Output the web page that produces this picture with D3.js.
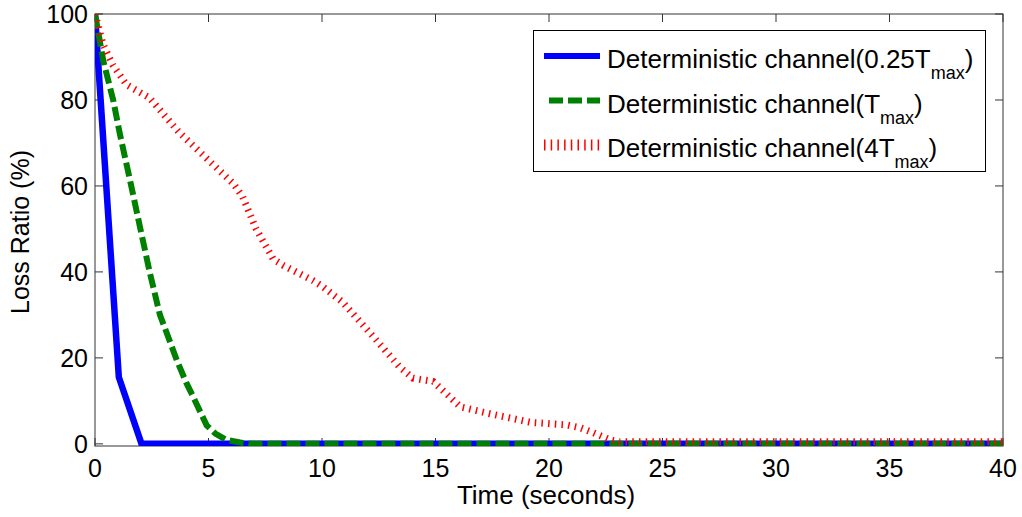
<!DOCTYPE html>
<html>
<head>
<meta charset="utf-8">
<script src="https://cdn.jsdelivr.net/npm/d3@7"></script>
<style>
  body { margin: 0; background: #fff; }
  text { font-family: "Liberation Sans", Arial, sans-serif; fill: #000; }
</style>
</head>
<body>
<svg id="chart" width="1022" height="517"></svg>
<script>
// values
var xTicks = [0, 5, 10, 15, 20, 25, 30, 35, 40];
var yTicks = [0, 20, 40, 60, 80, 100];

var blueTime = [0, 1.05, 2.05, 40];
var blueLoss = [100, 15.5, 0, 0];

var greenTime = [0, 0.37, 0.8, 1.1, 1.54, 1.98, 2.42, 2.86, 3.16, 3.6, 4.04, 4.32, 4.92, 5.3, 5.8, 6.4, 6.9, 40];
var greenLoss = [100, 89, 80, 72, 61.4, 50.5, 39.7, 30, 25.8, 19.5, 14, 11, 4.3, 2.4, 0.9, 0.3, 0, 0];

var redTime = [0, 0.35, 0.8, 1.4, 2.4, 3.7, 4.6, 5.5, 6.1, 6.5, 7.1, 7.85, 8.3, 9.6, 10.05, 10.9, 12.25, 13.4, 14, 14.9, 16.1, 17.4, 19.2, 20.8, 21.4, 21.95, 22.7, 23.1, 40];
var redLoss = [100, 93, 88, 83.5, 80.5, 72.5, 68, 63.5, 60.5, 57.5, 50, 43, 41.5, 38, 36.5, 33, 25, 18, 15.3, 14.5, 8.6, 7, 5, 4.4, 3.7, 2.6, 0.9, 0.5, 0.5];

var seriesNames = ["Deterministic channel(0.25T", "Deterministic channel(T", "Deterministic channel(4T"];

var svg = d3.select("#chart");
var plotLeft = 95, plotRight = 1003, plotTop = 14, plotBottom = 446;

var x = d3.scaleLinear().domain([0, 40]).range([plotLeft, plotRight]);
var y = d3.scaleLinear().domain([-0.5, 100]).range([plotBottom, plotTop]);

svg.append("rect").attr("width", 1022).attr("height", 517).attr("fill", "#fff");

svg.append("defs").append("clipPath").attr("id", "plotclip")
  .append("rect").attr("x", plotLeft).attr("y", plotTop)
  .attr("width", plotRight - plotLeft).attr("height", plotBottom - plotTop);

// axes, ticks inward on all four sides
var axisColor = "#333";
var tickLen = 8;
var axes = svg.append("g");
axes.append("rect").attr("x", plotLeft).attr("y", plotTop)
  .attr("width", plotRight - plotLeft).attr("height", plotBottom - plotTop)
  .attr("fill", "none").attr("stroke", axisColor).attr("stroke-width", 1);

xTicks.forEach(function (t) {
  axes.append("line").attr("x1", x(t)).attr("x2", x(t)).attr("y1", plotBottom).attr("y2", plotBottom - tickLen)
    .attr("stroke", axisColor);
  axes.append("line").attr("x1", x(t)).attr("x2", x(t)).attr("y1", plotTop).attr("y2", plotTop + tickLen)
    .attr("stroke", axisColor);
  axes.append("text").attr("x", x(t)).attr("y", 477).attr("text-anchor", "middle")
    .attr("font-size", 25).text(t);
});
yTicks.forEach(function (v) {
  axes.append("line").attr("x1", plotLeft).attr("x2", plotLeft + tickLen).attr("y1", y(v)).attr("y2", y(v))
    .attr("stroke", axisColor);
  axes.append("line").attr("x1", plotRight).attr("x2", plotRight - tickLen).attr("y1", y(v)).attr("y2", y(v))
    .attr("stroke", axisColor);
  axes.append("text").attr("x", 88).attr("y", y(v) + 9).attr("text-anchor", "end")
    .attr("font-size", 25).text(v);
});

svg.append("text").attr("x", 546).attr("y", 504).attr("text-anchor", "middle")
  .attr("font-size", 26).text("Time (seconds)");
svg.append("text").attr("transform", "translate(29,232) rotate(-90)").attr("text-anchor", "middle")
  .attr("font-size", 25).text("Loss Ratio (%)");

// lines
var line = d3.line().x(function (d) { return x(d[0]); }).y(function (d) { return y(d[1]); });
var styles = [
  { color: "#0000ff", width: 6.5, dash: null },
  { color: "#008000", width: 6, dash: "14,5" },
  { color: "#ff0000", width: 7, dash: "1.5,5.2" }
];
var series = [
  d3.zip(blueTime, blueLoss),
  d3.zip(greenTime, greenLoss),
  d3.zip(redTime, redLoss)
];

var plot = svg.append("g").attr("clip-path", "url(#plotclip)");
series.forEach(function (pts, i) {
  plot.append("path").datum(pts).attr("d", line)
    .attr("fill", "none").attr("stroke", styles[i].color).attr("stroke-width", styles[i].width)
    .attr("stroke-dasharray", styles[i].dash);
});

// legend
var legend = svg.append("g");
legend.append("rect").attr("x", 533.5).attr("y", 30.5).attr("width", 452).attr("height", 141)
  .attr("fill", "#fff").attr("stroke", "#000").attr("stroke-width", 1);
var rowY = [56, 100.5, 145];
var legendStyles = [
  { x1: 544, width: 6, dash: null },
  { x1: 549, width: 6, dash: "14,5" },
  { x1: 544, width: 11, dash: "1.5,5.2" }
];
seriesNames.forEach(function (name, i) {
  legend.append("line").attr("x1", legendStyles[i].x1).attr("x2", 600).attr("y1", rowY[i]).attr("y2", rowY[i])
    .attr("stroke", styles[i].color).attr("stroke-width", legendStyles[i].width)
    .attr("stroke-dasharray", legendStyles[i].dash);
  var t = legend.append("text").attr("x", 607).attr("y", rowY[i] + 12).attr("font-size", 26);
  t.append("tspan").text(name);
  t.append("tspan").attr("font-size", 18).attr("dy", 11).text("max");
  t.append("tspan").attr("dy", -11).text(")");
});
</script>
</body>
</html>
